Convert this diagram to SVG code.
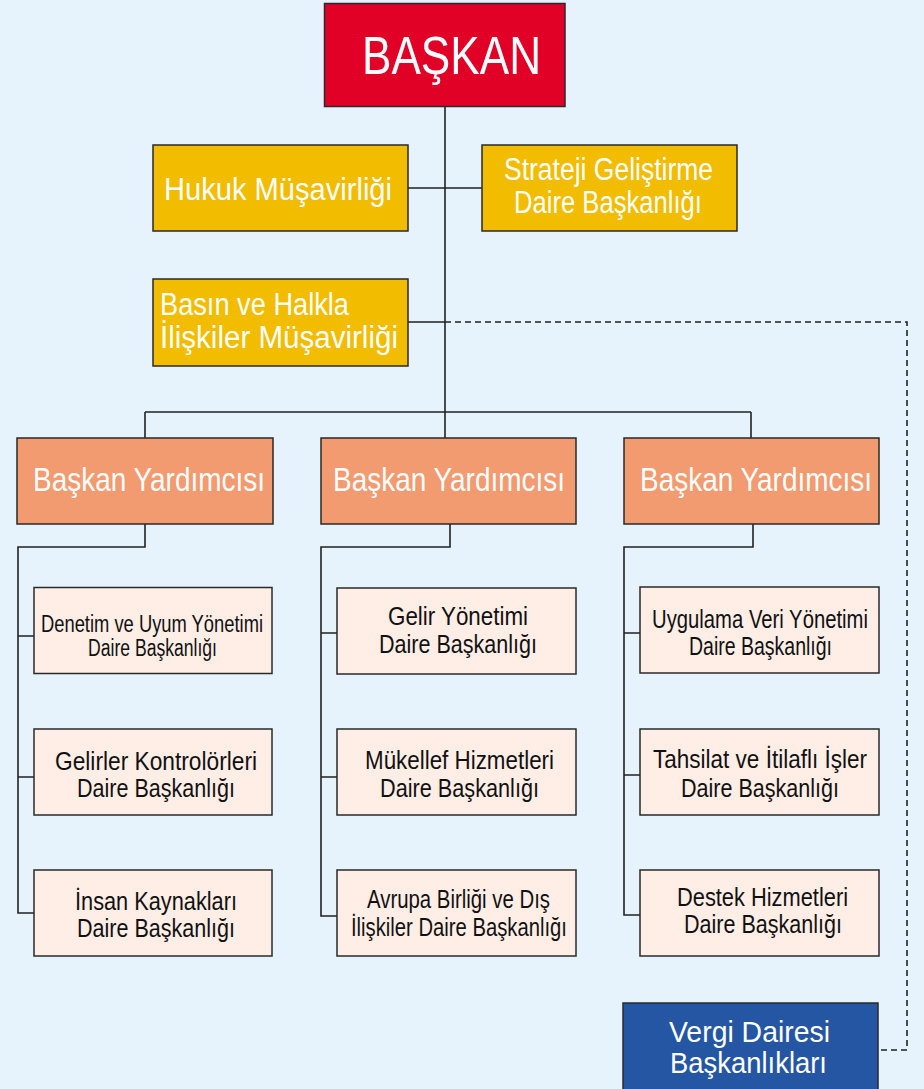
<svg xmlns="http://www.w3.org/2000/svg" width="924" height="1089" viewBox="0 0 924 1089">
<style>
text{font-family:"Liberation Sans Narrow","Liberation Sans",Arial,sans-serif;text-anchor:middle}
.box{stroke:#2a2a2a;stroke-width:1.5}
.red{fill:#E10026}.yel{fill:#F2BC00}.org{fill:#F29A70}.pnk{fill:#FEEEE6}.blu{fill:#2456A4}
.w{fill:#ffffff}.k{fill:#111111}
.ln{fill:none;stroke:#222;stroke-width:1.6}
.dash{fill:none;stroke:#222;stroke-width:1.6;stroke-dasharray:6 4}
</style>
<rect width="924" height="1089" fill="#E6F2FC"/>
<g id="connectors">
<path class="ln" d="M445 106V438M408 188H482M408 322H445M145 412H751M145 412V438M751 412V438"/>
<path class="dash" d="M445 322H907V1050H878"/>
<path class="ln" d="M145 524V547H18V913H34M18 636H34M18 777H34"/>
<path class="ln" d="M450 524V547H321V916H337M321 633H337M321 777H337"/>
<path class="ln" d="M753 524V547H624V915H640M624 633H640M624 775H640"/>
</g>
<g id="baskan">
<rect class="box red" x="324.5" y="3.5" width="240.5" height="103"/>
<text class="w" x="451.5" y="74" font-size="54" textLength="179" lengthAdjust="spacingAndGlyphs">BAŞKAN</text>
</g>
<g id="hukuk">
<rect class="box yel" x="153" y="145" width="255" height="86"/>
<text class="w" x="278" y="200" font-size="31" textLength="228" lengthAdjust="spacingAndGlyphs">Hukuk Müşavirliği</text>
</g>
<g id="strateji">
<rect class="box yel" x="482" y="145" width="255" height="86"/>
<text class="w" x="608.5" y="180" font-size="31" textLength="209" lengthAdjust="spacingAndGlyphs">Strateji Geliştirme</text>
<text class="w" x="608" y="213" font-size="31" textLength="188" lengthAdjust="spacingAndGlyphs">Daire Başkanlığı</text>
</g>
<g id="basin">
<rect class="box yel" x="153" y="279" width="255" height="87"/>
<text class="w" x="254.5" y="315" font-size="31" textLength="189" lengthAdjust="spacingAndGlyphs">Basın ve Halkla</text>
<text class="w" x="279" y="348" font-size="31" textLength="238" lengthAdjust="spacingAndGlyphs">İlişkiler Müşavirliği</text>
</g>
<g id="by1">
<rect class="box org" x="17" y="438" width="256" height="86"/>
<text class="w" x="149" y="491" font-size="33" textLength="232" lengthAdjust="spacingAndGlyphs">Başkan Yardımcısı</text>
</g>
<g id="by2">
<rect class="box org" x="321" y="438" width="255" height="86"/>
<text class="w" x="449" y="491" font-size="33" textLength="232" lengthAdjust="spacingAndGlyphs">Başkan Yardımcısı</text>
</g>
<g id="by3">
<rect class="box org" x="624" y="438" width="255" height="86"/>
<text class="w" x="756" y="491" font-size="33" textLength="232" lengthAdjust="spacingAndGlyphs">Başkan Yardımcısı</text>
</g>
<g id="denetim">
<rect class="box pnk" x="34" y="587.5" width="238" height="86"/>
<text class="k" x="152" y="632" font-size="23" textLength="222" lengthAdjust="spacingAndGlyphs">Denetim ve Uyum Yönetimi</text>
<text class="k" x="152.5" y="656" font-size="23" textLength="129" lengthAdjust="spacingAndGlyphs">Daire Başkanlığı</text>
</g>
<g id="gelirler">
<rect class="box pnk" x="34" y="729" width="238" height="86"/>
<text class="k" x="156" y="770" font-size="26" textLength="202" lengthAdjust="spacingAndGlyphs">Gelirler Kontrolörleri</text>
<text class="k" x="156" y="797" font-size="26" textLength="158" lengthAdjust="spacingAndGlyphs">Daire Başkanlığı</text>
</g>
<g id="insan">
<rect class="box pnk" x="34" y="870" width="238" height="86"/>
<text class="k" x="156" y="910" font-size="26" textLength="162" lengthAdjust="spacingAndGlyphs">İnsan Kaynakları</text>
<text class="k" x="156" y="937" font-size="26" textLength="158" lengthAdjust="spacingAndGlyphs">Daire Başkanlığı</text>
</g>
<g id="gelir">
<rect class="box pnk" x="337" y="588" width="239" height="86"/>
<text class="k" x="458" y="625" font-size="26" textLength="140" lengthAdjust="spacingAndGlyphs">Gelir Yönetimi</text>
<text class="k" x="458" y="653" font-size="26" textLength="158" lengthAdjust="spacingAndGlyphs">Daire Başkanlığı</text>
</g>
<g id="mukellef">
<rect class="box pnk" x="337" y="729" width="239" height="86"/>
<text class="k" x="459.5" y="769" font-size="26" textLength="189" lengthAdjust="spacingAndGlyphs">Mükellef Hizmetleri</text>
<text class="k" x="459.5" y="797" font-size="26" textLength="159" lengthAdjust="spacingAndGlyphs">Daire Başkanlığı</text>
</g>
<g id="avrupa">
<rect class="box pnk" x="337" y="870" width="239" height="86"/>
<text class="k" x="458.5" y="908" font-size="26" textLength="183" lengthAdjust="spacingAndGlyphs">Avrupa Birliği ve Dış</text>
<text class="k" x="459" y="936" font-size="26" textLength="216" lengthAdjust="spacingAndGlyphs">İlişkiler Daire Başkanlığı</text>
</g>
<g id="uygulama">
<rect class="box pnk" x="640" y="587" width="239" height="86"/>
<text class="k" x="760" y="628" font-size="26" textLength="216" lengthAdjust="spacingAndGlyphs">Uygulama Veri Yönetimi</text>
<text class="k" x="760.5" y="655" font-size="26" textLength="143" lengthAdjust="spacingAndGlyphs">Daire Başkanlığı</text>
</g>
<g id="tahsilat">
<rect class="box pnk" x="640" y="729" width="239" height="86"/>
<text class="k" x="760" y="768" font-size="26" textLength="214" lengthAdjust="spacingAndGlyphs">Tahsilat ve İtilaflı İşler</text>
<text class="k" x="760" y="797" font-size="26" textLength="158" lengthAdjust="spacingAndGlyphs">Daire Başkanlığı</text>
</g>
<g id="destek">
<rect class="box pnk" x="640" y="870" width="239" height="86"/>
<text class="k" x="762.5" y="906" font-size="26" textLength="171" lengthAdjust="spacingAndGlyphs">Destek Hizmetleri</text>
<text class="k" x="763" y="933" font-size="26" textLength="158" lengthAdjust="spacingAndGlyphs">Daire Başkanlığı</text>
</g>
<g id="vergi">
<rect class="box blu" x="623" y="1003" width="255" height="90"/>
<text class="w" x="749.5" y="1042" font-size="30" textLength="161" lengthAdjust="spacingAndGlyphs">Vergi Dairesi</text>
<text class="w" x="748.5" y="1073" font-size="30" textLength="157" lengthAdjust="spacingAndGlyphs">Başkanlıkları</text>
</g>
</svg>
